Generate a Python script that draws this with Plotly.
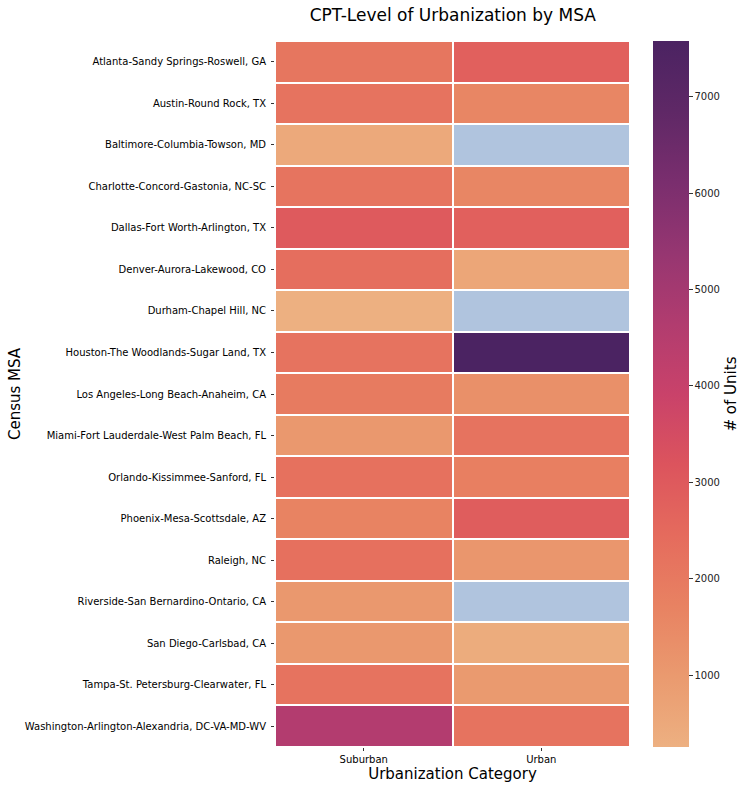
import plotly.graph_objects as go

msas = [
    "Atlanta-Sandy Springs-Roswell, GA",
    "Austin-Round Rock, TX",
    "Baltimore-Columbia-Towson, MD",
    "Charlotte-Concord-Gastonia, NC-SC",
    "Dallas-Fort Worth-Arlington, TX",
    "Denver-Aurora-Lakewood, CO",
    "Durham-Chapel Hill, NC",
    "Houston-The Woodlands-Sugar Land, TX",
    "Los Angeles-Long Beach-Anaheim, CA",
    "Miami-Fort Lauderdale-West Palm Beach, FL",
    "Orlando-Kissimmee-Sanford, FL",
    "Phoenix-Mesa-Scottsdale, AZ",
    "Raleigh, NC",
    "Riverside-San Bernardino-Ontario, CA",
    "San Diego-Carlsbad, CA",
    "Tampa-St. Petersburg-Clearwater, FL",
    "Washington-Arlington-Alexandria, DC-VA-MD-WV",
]
categories = ["Suburban", "Urban"]
suburban = [2100, 2200, 480, 2150, 3000, 2350, 253, 2200, 1950, 1050, 2250, 1700, 2300, 1050, 1050, 2200, 4600]
urban = [2800, 1600, None, 1600, 2800, 600, None, 7580, 1300, 2200, 1800, 2900, 1100, None, 400, 1000, 2200]

flare = [
    [0.0, "#EDB081"], [0.1, "#EA9A6F"], [0.2, "#E88262"], [0.3, "#E56B5D"],
    [0.4, "#DC545D"], [0.5, "#C9426A"], [0.6, "#B13C6F"], [0.7, "#963671"],
    [0.8, "#7A2E6E"], [0.9, "#5F2866"], [1.0, "#4B2362"],
]

z = [[s, u] for s, u in zip(suburban, urban)]
nan_z = [[None if s is not None else 1, None if u is not None else 1] for s, u in zip(suburban, urban)]

fig = go.Figure()
fig.add_trace(go.Heatmap(
    z=nan_z, x=categories, y=msas, xgap=2, ygap=2,
    colorscale=[[0, "lightsteelblue"], [1, "lightsteelblue"]],
    showscale=False, hoverinfo="skip",
))
fig.add_trace(go.Heatmap(
    z=z, x=categories, y=msas, xgap=2, ygap=2,
    colorscale=flare, zmin=253, zmax=7580,
    colorbar=dict(
        title=dict(text="# of Units", side="right", font=dict(size=15, color="black")),
        x=1.065, xanchor="left", y=0.5, yanchor="middle", xpad=0, ypad=0,
        len=706, lenmode="pixels", thickness=36, outlinewidth=0,
        ticks="outside", ticklen=4, tickcolor="#333",
        tickvals=[1000, 2000, 3000, 4000, 5000, 6000, 7000],
        tickfont=dict(size=10, color="#222"),
    ),
))

fig.update_layout(
    width=746, height=790,
    margin=dict(l=275, r=116, t=41, b=43, autoexpand=False),
    paper_bgcolor="white", plot_bgcolor="white",
    font=dict(family="DejaVu Sans", color="black"),
    title=dict(text="CPT-Level of Urbanization by MSA", x=0.607, xanchor="center",
               y=0.981, yanchor="middle", font=dict(size=17, color="black")),
)
fig.update_xaxes(
    title=dict(text="Urbanization Category", font=dict(size=15), standoff=2),
    ticks="outside", ticklen=3, tickcolor="#333", tickfont=dict(size=10),
    showgrid=False, zeroline=False, showline=False,
)
fig.update_yaxes(
    title=dict(text="Census MSA", font=dict(size=15), standoff=0),
    autorange="reversed",
    ticks="outside", ticklen=3, tickcolor="#333", tickfont=dict(size=10),
    ticklabelstandoff=3,
    showgrid=False, zeroline=False, showline=False,
)

fig.write_html(
    "out.html",
    config={"displayModeBar": False},
    post_script="document.body.style.margin='0';document.body.style.overflow='hidden';",
)
